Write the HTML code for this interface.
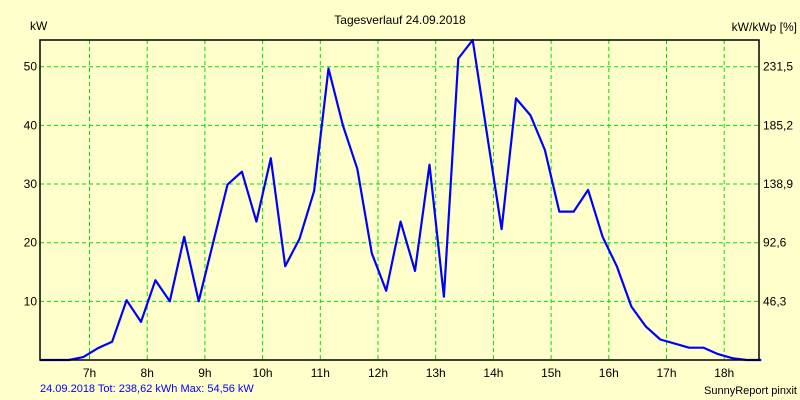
<!DOCTYPE html>
<html><head><meta charset="utf-8"><style>
body{margin:0;background:#ffffcc}
svg{display:block}
text{font-family:"Liberation Sans",Arial,sans-serif;font-size:12px;fill:#000}
</style></head><body>
<svg id="chart" width="800" height="400" viewBox="0 0 800 400" xmlns="http://www.w3.org/2000/svg">
<rect x="0" y="0" width="800" height="400" fill="#ffffcc"/>
<g id="grid"></g>
<g id="series"></g>
<rect x="40" y="40" width="719" height="320" fill="none" stroke="#000" stroke-width="1.5"/>
<g id="labels"></g>
<text x="400" y="24" text-anchor="middle">Tagesverlauf 24.09.2018</text>
<text x="30" y="30">kW</text>
<text x="797" y="31" text-anchor="end">kW/kWp [%]</text>
<text x="40" y="392" style="fill:#0000ff;font-size:11px">24.09.2018 Tot: 238,62 kWh Max: 54,56 kW</text>
<text x="797" y="394" text-anchor="end" style="font-size:11px">SunnyReport pinxit</text>
</svg>
<script>
const yTicks=[10,20,30,40,50];
const yTickLabels=["10","20","30","40","50"];
const y2TickLabels=["46,3","92,6","138,9","185,2","231,5"];
const xHours=[7,8,9,10,11,12,13,14,15,16,17,18];
const xLabels=["7h","8h","9h","10h","11h","12h","13h","14h","15h","16h","17h","18h"];
const startHour=6.142;
const stepHours=0.25;
const power=[0,0,0,0.5,2.0,3.1,10.2,6.5,13.6,10.0,21.0,10.0,20.0,29.9,32.1,23.6,34.4,16.0,20.7,28.8,49.7,40.0,32.6,18.2,11.8,23.6,15.2,33.3,10.8,51.4,54.56,38.3,22.3,44.6,41.7,35.8,25.3,25.3,29.0,21.0,15.9,9.1,5.7,3.5,2.8,2.1,2.1,1.0,0.3,0,0];
const NS="http://www.w3.org/2000/svg";
const L=40,R=759,T=40,B=360,yMax=54.56,pxPerHour=57.7;
function xs(h){return L+(h-startHour)*pxPerHour;}
function ys(v){return B-(v/yMax)*(B-T);}
const grid=document.getElementById('grid'),labels=document.getElementById('labels'),series=document.getElementById('series');
function mk(tag,attrs,parent){const e=document.createElementNS(NS,tag);for(const k in attrs)e.setAttribute(k,attrs[k]);parent.appendChild(e);return e;}
yTicks.forEach((v,i)=>{
  const y=ys(v);
  const g=mk('line',{x1:L,x2:R,y1:y,y2:y,stroke:'#00dd00','stroke-dasharray':'4,3'},grid);
  
  
  const t=mk('text',{x:37,y:y+4,'text-anchor':'end'},labels);t.textContent=yTickLabels[i];
  
  
  const t2=mk('text',{x:763,y:y+4},labels);t2.textContent=y2TickLabels[i];
  
  
});
xHours.forEach((h,i)=>{
  const x=xs(h);
  const g=mk('line',{x1:x,x2:x,y1:T,y2:B,stroke:'#00dd00','stroke-dasharray':'4,3'},grid);
  
  
  const t=mk('text',{x:x,y:377,'text-anchor':'middle'},labels);t.textContent=xLabels[i];
  
  
});
const pts=power.map((v,k)=>xs(startHour+k*stepHours).toFixed(1)+','+ys(v).toFixed(1)).join(' ');
const pl=mk('polyline',{points:pts,fill:'none',stroke:'#0000ff','stroke-width':2.2,'stroke-linejoin':'round'},series);


</script>
</body></html>
